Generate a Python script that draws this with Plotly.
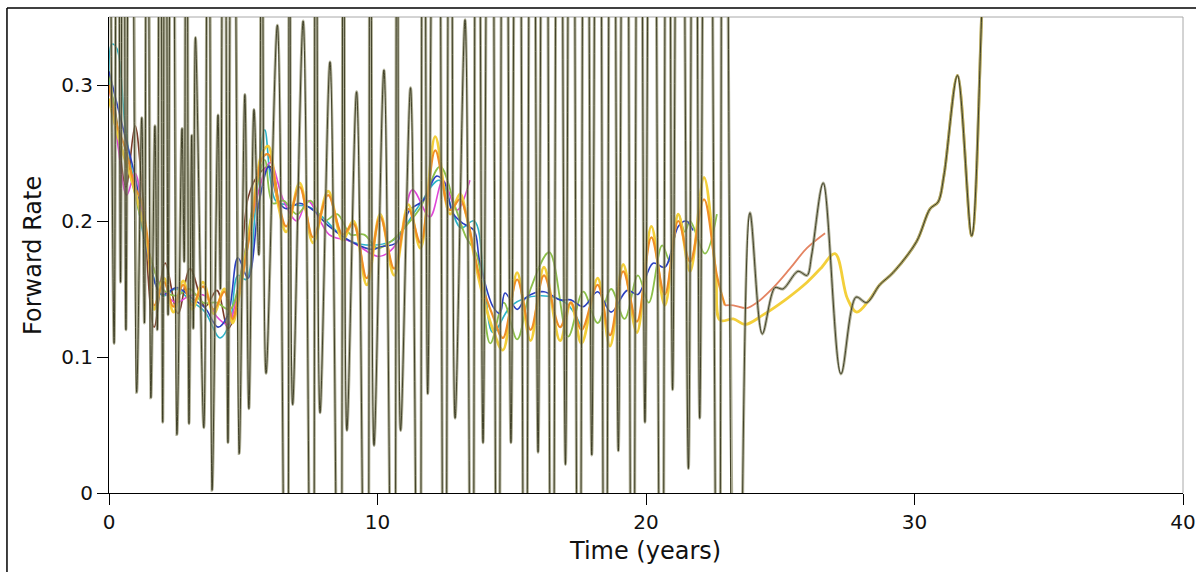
import plotly.graph_objects as go

# ---------------- data ----------------
wild_x = [0.00, 0.19, 0.31, 0.43, 0.53, 0.63, 0.80, 1.03, 1.22, 1.32, 1.42, 1.56, 1.71, 1.80, 1.90,
          2.00, 2.10, 2.20, 2.35, 2.53, 2.72, 2.80, 2.88, 2.98, 3.08, 3.14, 3.22, 3.53, 3.70, 3.84,
          4.06, 4.15, 4.28, 4.43, 4.60, 4.85, 5.06, 5.21, 5.40, 5.58, 5.68, 5.85,
          6.27, 6.62, 6.73, 6.84, 7.23, 7.58, 7.70, 7.86, 8.23, 8.60, 8.74, 8.86, 9.22, 9.60, 9.74,
          9.87, 10.24, 10.60, 10.74, 10.86, 11.23, 11.55, 11.70, 11.87, 12.20, 12.50, 12.72, 12.89,
          13.26, 13.52, 13.70, 13.93, 14.20, 14.48, 14.72, 14.97, 15.22, 15.50, 15.75, 15.98,
          16.22, 16.50, 16.75, 17.00, 17.22, 17.50, 17.75, 17.98, 18.22, 18.48, 18.73, 18.97,
          19.22, 19.50, 19.74, 19.96, 20.22, 20.58, 20.80, 20.99, 21.25, 21.58, 21.80, 22.00,
          22.28, 22.70, 22.90, 23.35, 23.87, 24.33, 24.80, 25.10, 25.66, 26.00, 26.17, 26.60,
          27.26, 27.82, 28.22, 28.70, 29.20, 30.08, 30.58, 30.88, 31.10, 31.60, 32.13, 32.50, 32.80]
wild_y = [0.60, 0.110, 0.80, 0.155, 0.80, 0.120, 0.80, 0.074, 0.276, 0.125, 0.80, 0.070, 0.270, 0.120, 0.80,
          0.052, 0.80, 0.131, 0.80, 0.043, 0.268, 0.170, 0.80, 0.051, 0.263, 0.121, 0.335, 0.048, 0.80, 0.002,
          0.278, 0.150, 0.80, 0.037, 0.80, 0.029, 0.293, 0.062, 0.282, 0.175, 0.80, 0.088,
          0.344, -0.30, 0.90, 0.065, 0.347, -0.30, 0.90, 0.059, 0.317, -0.30, 0.90, 0.046, 0.295, -0.30, 0.90,
          0.035, 0.311, -0.30, 0.90, 0.046, 0.298, -0.30, 0.90, 0.073, 0.90, -0.30, 0.90, 0.055,
          0.348, -0.30, 0.90, 0.037, 0.90, -0.30, 0.90, 0.037, 0.90, -0.30, 0.90, 0.030,
          0.90, -0.30, 0.90, 0.021, 0.90, -0.30, 0.90, 0.028, 0.90, -0.30, 0.90, 0.031,
          0.90, -0.30, 0.90, 0.052, 0.90, -0.30, 0.90, 0.076, 0.90, 0.018, 0.90, 0.055,
          0.90, -0.30, 0.90, -0.40, 0.206, 0.117, 0.151, 0.150, 0.163, 0.160, 0.175, 0.228,
          0.0875, 0.144, 0.140, 0.153, 0.162, 0.185, 0.209, 0.214, 0.234, 0.307, 0.189, 0.351, 0.55]

orange_x = [0.0, 0.3, 0.6, 0.97, 1.2, 1.45, 1.68, 2.05, 2.4, 2.76, 3.1, 3.5, 3.9, 4.3, 4.6, 4.8, 5.33, 5.7,
            5.93, 6.3, 6.6, 7.1, 7.6, 8.16, 8.7, 9.1, 9.6, 10.1, 10.62, 11.15, 11.6, 12.15, 12.7, 13.07,
            13.3, 13.8, 14.3, 14.67, 15.2, 15.7, 16.2, 16.8, 17.2, 17.6, 18.2, 18.66, 19.15, 19.66, 20.2,
            20.7, 21.2, 21.64, 22.16, 22.64, 22.94]
orange_y = [0.300, 0.270, 0.254, 0.225, 0.215, 0.185, 0.138, 0.155, 0.137, 0.153, 0.138, 0.152, 0.135, 0.148,
            0.128, 0.143, 0.200, 0.246, 0.249, 0.215, 0.196, 0.225, 0.188, 0.219, 0.190, 0.198, 0.158, 0.203,
            0.165, 0.209, 0.184, 0.252, 0.208, 0.216, 0.205, 0.159, 0.130, 0.114, 0.157, 0.120, 0.160, 0.122,
            0.140, 0.120, 0.153, 0.116, 0.163, 0.126, 0.188, 0.146, 0.200, 0.170, 0.216, 0.160, 0.138]

salmon_x = [22.94, 23.25, 23.75, 24.13, 24.74, 25.36, 25.99, 26.67]
salmon_y = [0.138, 0.138, 0.136, 0.140, 0.151, 0.165, 0.180, 0.191]

yellow_x = [0.0, 0.3, 0.6, 0.97, 1.45, 1.68, 2.05, 2.4, 2.76, 3.1, 3.5, 3.9, 4.3, 4.6, 4.8, 5.33, 5.7, 5.93,
            6.3, 6.6, 7.1, 7.6, 8.16, 8.7, 9.1, 9.6, 10.1, 10.62, 11.15, 11.6, 12.15, 12.7, 13.07, 13.3, 13.8,
            14.3, 14.67, 15.2, 15.7, 16.2, 16.8, 17.2, 17.6, 18.2, 18.66, 19.15, 19.66, 20.2, 20.7, 21.2,
            21.64, 22.16, 22.6, 22.76, 23.25, 23.7, 24.36, 25.25, 26.0, 26.5, 27.04, 27.5, 27.85, 28.35,
            28.7, 29.2, 30.08, 30.58, 30.88, 31.1, 31.6, 32.13, 32.5, 32.8]
yellow_y = [0.290, 0.265, 0.245, 0.222, 0.180, 0.135, 0.158, 0.133, 0.156, 0.135, 0.155, 0.132, 0.150, 0.125,
            0.140, 0.205, 0.250, 0.255, 0.212, 0.192, 0.228, 0.184, 0.222, 0.186, 0.200, 0.153, 0.205, 0.160,
            0.212, 0.180, 0.262, 0.205, 0.220, 0.205, 0.155, 0.120, 0.105, 0.162, 0.112, 0.166, 0.112, 0.140,
            0.110, 0.158, 0.108, 0.168, 0.118, 0.196, 0.138, 0.205, 0.163, 0.232, 0.160, 0.127, 0.128, 0.124,
            0.131, 0.143, 0.155, 0.165, 0.176, 0.143, 0.133, 0.143, 0.153, 0.162, 0.185, 0.209, 0.214, 0.234,
            0.307, 0.189, 0.351, 0.55]

green_x = [0.0, 0.4, 0.9, 1.45, 2.0, 2.5, 3.0, 3.5, 4.0, 4.5, 4.9, 5.4, 5.8, 6.1, 6.5, 7.0, 7.5, 8.0, 8.5,
           9.0, 9.5, 10.0, 10.5, 11.0, 11.6, 12.33, 12.9, 13.3, 13.7, 14.2, 14.7, 15.2, 15.7, 16.4, 17.1,
           17.66, 18.2, 18.7, 19.2, 19.7, 20.1, 20.6, 20.9, 21.2, 21.45, 21.64, 22.2, 22.64]
green_y = [0.310, 0.260, 0.225, 0.180, 0.150, 0.145, 0.150, 0.140, 0.140, 0.135, 0.160, 0.215, 0.245, 0.213,
           0.215, 0.205, 0.215, 0.200, 0.205, 0.190, 0.190, 0.180, 0.185, 0.195, 0.210, 0.240, 0.210, 0.188,
           0.175, 0.110, 0.140, 0.113, 0.150, 0.177, 0.115, 0.148, 0.125, 0.150, 0.128, 0.160, 0.140, 0.182,
           0.170, 0.205, 0.192, 0.200, 0.176, 0.205]

blue_x = [0.0, 0.5, 1.0, 1.45, 1.97, 2.53, 3.1, 3.58, 4.06, 4.43, 4.8, 5.18, 5.6, 5.95, 6.3, 6.6, 7.1, 7.6,
          8.2, 9.1, 9.84, 10.1, 10.7, 11.2, 11.7, 12.2, 12.5, 12.8, 13.2, 13.6, 13.8, 14.3, 14.56, 14.75,
          15.2, 15.55, 16.2, 16.8, 17.2, 17.66, 18.2, 18.7, 19.3, 19.7, 20.26, 20.7, 21.2, 21.5, 21.75]
blue_y = [0.310, 0.270, 0.230, 0.175, 0.146, 0.151, 0.143, 0.136, 0.122, 0.131, 0.173, 0.158, 0.215, 0.240,
          0.215, 0.209, 0.213, 0.208, 0.196, 0.184, 0.179, 0.181, 0.184, 0.208, 0.215, 0.233, 0.228, 0.206,
          0.198, 0.193, 0.171, 0.137, 0.132, 0.147, 0.135, 0.144, 0.148, 0.142, 0.142, 0.137, 0.148, 0.133,
          0.149, 0.146, 0.169, 0.166, 0.196, 0.200, 0.193]

magenta_x = [0.0, 0.3, 0.66, 0.97, 1.45, 2.0, 2.5, 3.0, 3.58, 4.0, 4.43, 4.8, 5.3, 6.0, 6.5, 7.0, 7.4, 8.2,
             9.0, 10.0, 10.35, 10.84, 11.3, 11.95, 12.44, 12.96, 13.44]
magenta_y = [0.300, 0.260, 0.219, 0.235, 0.180, 0.150, 0.140, 0.145, 0.145, 0.130, 0.124, 0.150, 0.200, 0.243,
             0.215, 0.200, 0.215, 0.190, 0.185, 0.174, 0.176, 0.188, 0.223, 0.203, 0.230, 0.208, 0.230]

brown_x = [0.0, 0.22, 0.63, 0.97, 1.25, 1.68, 2.09, 2.57, 3.02, 3.58, 4.02, 4.43, 4.8, 5.18, 5.6, 6.0, 6.3]
brown_y = [0.300, 0.283, 0.225, 0.270, 0.220, 0.122, 0.169, 0.132, 0.165, 0.137, 0.149, 0.121, 0.140, 0.217,
           0.235, 0.240, 0.215]

cyan_x = [0.0, 0.1, 0.29, 0.6, 1.0, 1.45, 2.0, 2.5, 3.0, 3.58, 4.13, 4.5, 4.8, 5.1, 5.5, 5.8, 6.2, 6.6, 7.5,
          9.0, 10.5, 11.5, 12.3, 13.1, 13.6, 14.0, 14.3, 15.0, 16.0, 17.0, 17.6]
cyan_y = [0.300, 0.330, 0.327, 0.270, 0.220, 0.175, 0.145, 0.150, 0.142, 0.133, 0.114, 0.125, 0.160, 0.157,
          0.220, 0.267, 0.215, 0.212, 0.210, 0.185, 0.185, 0.210, 0.230, 0.195, 0.200, 0.150, 0.118, 0.138,
          0.145, 0.140, 0.122]

x_ticks = [0, 10, 20, 30, 40]
y_ticks = [0, 0.1, 0.2, 0.3]
y_tick_text = ["0", "0.1", "0.2", "0.3"]

# ---------------- figure ----------------
fig = go.Figure()


def add_line(xs, ys, color, width, smoothing=1.0):
    fig.add_trace(go.Scatter(x=xs, y=ys, mode="lines",
                             line=dict(color=color, width=width, shape="spline", smoothing=smoothing),
                             hoverinfo="skip", showlegend=False))


add_line(cyan_x, cyan_y, "#2bb3c9", 1.6)
add_line(brown_x, brown_y, "#7a3b2a", 1.6)
add_line(magenta_x, magenta_y, "#e046d8", 1.6)
add_line(green_x, green_y, "#8cc04a", 1.8)
add_line(blue_x, blue_y, "#2a3fc0", 1.6)
add_line(yellow_x, yellow_y, "#f3cf3a", 2.8)
add_line(orange_x, orange_y, "#ef8f25", 2.2)
add_line(salmon_x, salmon_y, "#e48462", 1.8)
add_line(wild_x, wild_y, "rgba(150,150,118,0.75)", 3.0, 0.9)
add_line(wild_x, wild_y, "#34341c", 0.9, 0.9)

tick_font = dict(family="DejaVu Sans", size=20, color="#111111")
title_font = dict(family="DejaVu Sans", size=24, color="#111111")

fig.update_layout(
    width=1196, height=572,
    margin=dict(l=109, r=13, t=17, b=79, autoexpand=False),
    paper_bgcolor="white", plot_bgcolor="white",
    xaxis=dict(range=[0, 40], tickvals=x_ticks, ticks="outside", ticklen=11, tickwidth=1,
               tickcolor="black", showline=True, linecolor="black", linewidth=1, showgrid=False,
               zeroline=False, tickfont=tick_font, fixedrange=True, automargin=False),
    yaxis=dict(range=[0, 0.35], tickvals=y_ticks, ticktext=y_tick_text, ticks="outside", ticklen=11,
               tickwidth=1, tickcolor="black", showline=True, linecolor="black", linewidth=1,
               showgrid=False, zeroline=False, tickfont=tick_font, fixedrange=True, automargin=False),
    shapes=[
        dict(type="line", xref="paper", yref="paper", x0=0, x1=1, y0=1, y1=1,
             line=dict(color="#a8a8a8", width=1), layer="below"),
        dict(type="line", xref="paper", yref="paper", x0=1, x1=1, y0=0, y1=1,
             line=dict(color="#a8a8a8", width=1), layer="below"),
        dict(type="line", xref="paper", yref="paper", x0=-0.095, x1=1.05, y0=1.019, y1=1.019,
             line=dict(color="black", width=1.5)),
        dict(type="line", xref="paper", yref="paper", x0=-0.095, x1=-0.095, y0=-0.3, y1=1.019,
             line=dict(color="black", width=1.5)),
    ],
    annotations=[
        dict(text="Forward Rate", xref="paper", yref="paper", x=-0.0708, y=0.5, textangle=-90,
             showarrow=False, xanchor="center", yanchor="middle", font=title_font),
        dict(text="Time (years)", xref="paper", yref="paper", x=0.499, y=-0.122,
             showarrow=False, xanchor="center", yanchor="middle", font=title_font),
    ],
)

fig.write_html("out.html")
